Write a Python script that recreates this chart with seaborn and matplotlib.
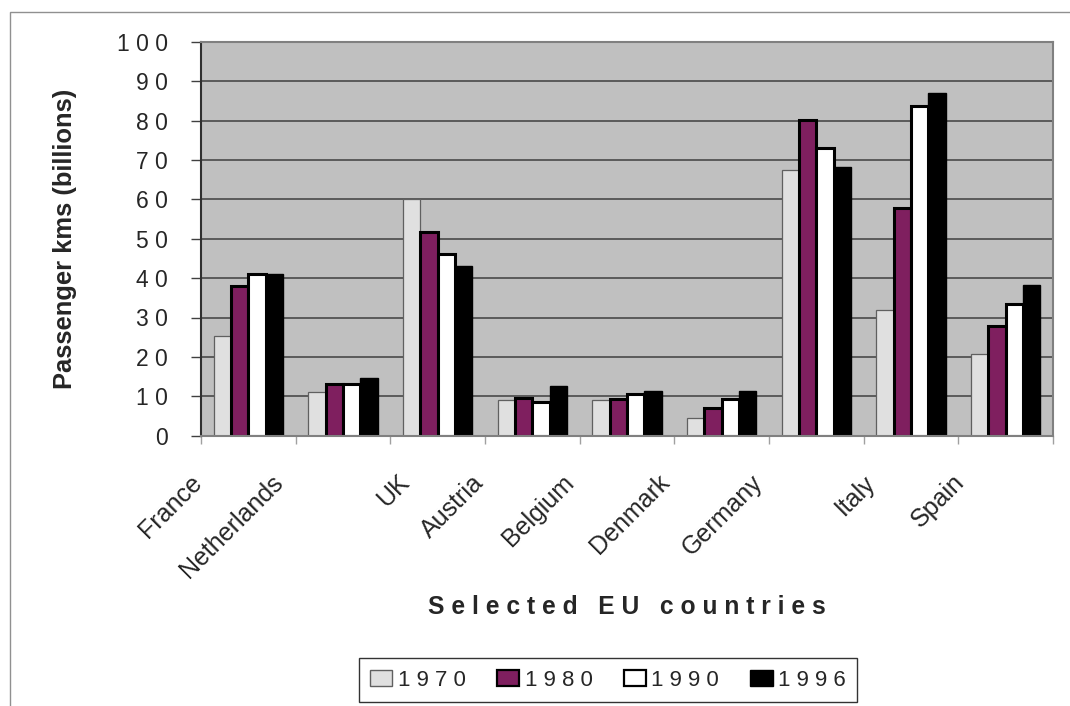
import numpy as np
import pandas as pd
import matplotlib
matplotlib.use("Agg")
import matplotlib.pyplot as plt
import matplotlib.transforms as mtransforms
from matplotlib.patches import Rectangle, Patch
from matplotlib.ticker import FuncFormatter
import seaborn as sns

# Passenger kilometres travelled, billions
countries = ["France", "Netherlands", "UK", "Austria", "Belgium",
             "Denmark", "Germany", "Italy", "Spain"]
years = ["1970", "1980", "1990", "1996"]
km_1970 = [25.3, 11.0, 60.0, 9.1, 9.1, 4.4, 67.4, 31.8, 20.7]
km_1980 = [38.1, 13.2, 51.8, 9.6, 9.2, 7.1, 80.2, 57.9, 27.9]
km_1990 = [41.0, 13.2, 46.1, 8.6, 10.7, 9.2, 73.1, 83.8, 33.4]
km_1996 = [41.0, 14.7, 43.1, 12.7, 11.3, 11.3, 68.1, 87.0, 38.2]
y_ticks = list(range(0, 101, 10))

df = pd.DataFrame({
    "country": countries * len(years),
    "year": np.repeat(years, len(countries)),
    "km": km_1970 + km_1980 + km_1990 + km_1996,
})

fills = ["#E0E0E0", "#7F1F5F", "#FFFFFF", "#000000"]
edges = ["#606060", "#000000", "#000000", "#000000"]
edge_widths = [0.9, 2.2, 2.2, 1.0]

sns.set_theme(style="white")
plt.rcParams["font.family"] = ["Liberation Sans", "DejaVu Sans"]

fig = plt.figure(figsize=(10.70, 7.06), dpi=100)
ax = fig.add_axes([201 / 1070, 1 - 435.7 / 706, 852 / 1070, 394 / 706])
ax.set_facecolor("#C0C0C0")

sns.barplot(data=df, x="country", y="km", hue="year", order=countries,
            hue_order=years, palette=fills, saturation=1, width=0.73,
            gap=0, legend=False, ax=ax, err_kws={"linewidth": 0})

for cont, ec, lw in zip(ax.containers, edges, edge_widths):
    for bar in cont:
        bar.set_edgecolor(ec)
        bar.set_linewidth(lw)

ax.set_ylim(0, 100)
ax.set_xlim(-0.5, len(countries) - 0.5)
ax.set_yticks(y_ticks)
ax.yaxis.set_major_formatter(FuncFormatter(lambda v, p: " ".join(str(int(v)))))
ax.grid(axis="y", color="#404040", linewidth=1.1)
ax.grid(axis="x", visible=False)
ax.set_axisbelow(True)

# category labels sit at the group boundaries, slanted
ax.set_xticks(np.arange(-0.5, len(countries), 1.0))
ax.set_xticklabels(countries + [""], rotation=45, ha="right", va="center",
                   rotation_mode="anchor", fontsize=18)

ax.tick_params(axis="x", direction="out", length=6, width=1, color="#A0A0A0",
               pad=25, bottom=True)
ax.tick_params(axis="y", direction="out", length=7, width=1, color="#404040",
               labelsize=16.5, pad=17, left=True)

label_shift = [-3, -16, 15, -5, -10, -9, -10, 8, 2]
for lbl, dx in zip(ax.get_xticklabels(), label_shift):
    lbl.set_transform(lbl.get_transform() +
                      mtransforms.ScaledTranslation(dx / 100, 0, fig.dpi_scale_trans))

for side in ["top", "right", "bottom"]:
    ax.spines[side].set_color("#808080")
    ax.spines[side].set_linewidth(1.5)
ax.spines["left"].set_color("#303030")
ax.spines["left"].set_linewidth(1.5)

ax.set_xlabel("")
ax.set_ylabel("Passenger kms (billions)", fontsize=18.4, fontweight="bold")
ax.yaxis.set_label_coords(-0.145, 0.5)

fig.text(627 / 1070, 1 - 607 / 706, "S e l e c t e d   E U   c o u n t r i e s",
         ha="center", va="center", fontsize=17.7, fontweight="bold")

handles = [Patch(facecolor=f, edgecolor=e, linewidth=lw)
           for f, e, lw in zip(fills, edges, [1.0, 1.6, 1.6, 1.0])]
leg = fig.legend(handles, [" ".join(y) for y in years], loc="center",
                 bbox_to_anchor=(608 / 1070, 1 - 680 / 706), ncol=4,
                 fontsize=16, frameon=True, fancybox=False,
                 handlelength=1.0, handleheight=0.7, handletextpad=0.25,
                 columnspacing=1.4, borderpad=0.5, borderaxespad=0)
leg.get_frame().set_edgecolor("#000000")
leg.get_frame().set_linewidth(1.0)

# outer chart-area border
fig.patches.append(Rectangle((10 / 1070, -0.05), 1.2, 1 - 12 / 706 + 0.05,
                             transform=fig.transFigure, fill=False,
                             edgecolor="#909090", linewidth=1.0))

fig.savefig("out.png", dpi=100)
